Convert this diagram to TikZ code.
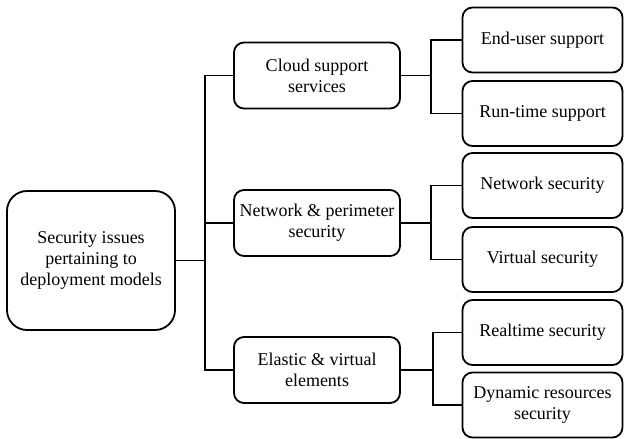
\documentclass[tikz,border=0pt]{standalone}
\usepackage{fontspec}
\setmainfont{LiberationSerif}[Extension=.ttf, UprightFont=*-Regular, BoldFont=*-Bold]
\begin{document}
\begin{tikzpicture}[x=1pt,y=-1pt,
  every node/.style={font=\rmfamily\fontsize{18}{21}\selectfont, align=center, inner sep=0pt},
  rootbox/.style={draw, line width=1.8pt, rounded corners=20pt, minimum width=168pt, minimum height=139pt},
  midbox/.style={draw, line width=1.8pt, rounded corners=10pt, minimum width=166pt, minimum height=66pt},
  leafbox/.style={draw, line width=1.8pt, rounded corners=10pt, minimum width=160pt, minimum height=65pt},
  link/.style={line width=1.2pt}]
\useasboundingbox (0,0) rectangle (625,439);

% root
\node[rootbox] (root) at (91,260.5) {Security issues\\pertaining to\\deployment models};

% second level
\node[midbox] (cloud) at (317,75.5) {Cloud support\\services};
\node[midbox] (net) at (317,223) {Network \& perimeter\\security};
\node[midbox] (elastic) at (317,370) {Elastic \& virtual\\elements};

% leaves
\node[leafbox] (eu) at (542.5,40) {End-user support};
\node[leafbox] (rt) at (542.5,113.5) {Run-time support};
\node[leafbox] (ns) at (542.5,185.5) {Network security};
\node[leafbox] (vs) at (542.5,259.5) {Virtual security};
\node[leafbox] (rs) at (542.5,332.5) {Realtime security};
\node[leafbox] (dr) at (542.5,405) {Dynamic resources\\security};

% junctions
\coordinate (j0) at (205,260.5);
\coordinate (j1) at (431,75.5);
\coordinate (j2) at (431,223);
\coordinate (j3) at (433,370);

% connectors
\draw[link] (root.east) -- (j0);
\draw[link] (j0) |- (cloud.west);
\draw[link] (j0) |- (net.west);
\draw[link] (j0) |- (elastic.west);

\draw[link] (cloud.east) -- (j1);
\draw[link] (j1) |- (eu.west);
\draw[link] (j1) |- (rt.west);

\draw[link] (net.east) -- (j2);
\draw[link] (j2) |- (ns.west);
\draw[link] (j2) |- (vs.west);

\draw[link] (elastic.east) -- (j3);
\draw[link] (j3) |- (rs.west);
\draw[link] (j3) |- (dr.west);
\end{tikzpicture}
\end{document}
